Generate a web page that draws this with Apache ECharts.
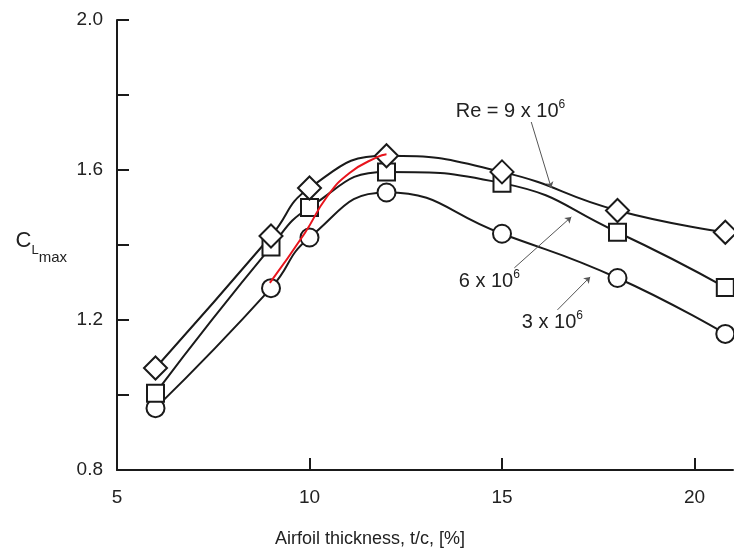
<!DOCTYPE html>
<html>
<head>
<meta charset="utf-8">
<script src="https://cdn.jsdelivr.net/npm/echarts@6/dist/echarts.min.js"></script>
<style>
  html, body { margin: 0; padding: 0; background: #fff; }
  #main { width: 734px; height: 549px; }
</style>
</head>
<body>
<div id="main"></div>
<script>
// 厚度 (t/c, %)
var thickness = [6, 9, 10, 12, 15, 18, 20.8]
// CLmax per Reynolds number
var re3 = [0.965, 1.285, 1.42, 1.54, 1.43, 1.312, 1.163]
var re6 = [1.005, 1.395, 1.50, 1.595, 1.565, 1.434, 1.287]
var re9 = [1.072, 1.424, 1.552, 1.638, 1.595, 1.492, 1.434]
// red hand-drawn curve
var redX = [8.97, 9.88, 10.45, 11.04, 11.77, 12.0]
var redY = [1.299, 1.432, 1.528, 1.592, 1.635, 1.642]

var xLabels = [5, 10, 15, 20]
var xTicks = [10, 15, 20]
var yLabels = [0.8, 1.2, 1.6, 2.0]
var yTicks = [1.0, 1.2, 1.4, 1.6, 1.8, 2.0]

// annotation leaders: [from, to]
var arrows = [
  [[15.76, 1.728], [16.28, 1.552]],
  [[15.32, 1.339], [16.80, 1.475]],
  [[16.44, 1.227], [17.29, 1.315]]
]
var notes = [
  { pos: [15.22, 1.757], text: '{t|Re = 9 x 10}{s|6}' },
  { pos: [14.67, 1.303], text: '{t|6 x 10}{s|6}' },
  { pos: [16.31, 1.193], text: '{t|3 x 10}{s|6}' }
]

var pairs = function(xs, ys) {
  var out = []
  for (var i = 0; i < xs.length; i++) {
    out.push([xs[i], ys[i]])
  }
  return out
}

var seriesStyle = function(name, ys, symbol, size) {
  return {
    name: name,
    type: 'line',
    smooth: 0.5,
    data: pairs(thickness, ys),
    symbol: symbol,
    symbolSize: size,
    lineStyle: { color: '#1a1a1a', width: 2 },
    itemStyle: { color: '#fff', borderColor: '#1a1a1a', borderWidth: 2 },
    emphasis: { disabled: true }
  }
}

var txt = { fontFamily: 'Liberation Sans, Arial, sans-serif', color: '#222' }

var mychart = echarts.init(document.getElementById('main'))
mychart.setOption({
  animation: false,
  grid: { left: 117, right: 1, top: 20, bottom: 79, outerBoundsMode: 'none', containLabel: false },
  xAxis: {
    type: 'value',
    min: 5,
    max: 21,
    interval: 1,
    name: 'Airfoil thickness, t/c, [%]',
    nameLocation: 'middle',
    nameGap: 60,
    nameTextStyle: Object.assign({ fontSize: 18, padding: [0, 110, 0, 0] }, txt),
    axisLine: { lineStyle: { color: '#1a1a1a', width: 2 } },
    axisTick: { inside: true, length: 12, customValues: xTicks, lineStyle: { color: '#1a1a1a', width: 2 } },
    axisLabel: Object.assign({ fontSize: 19, margin: 18, customValues: xLabels }, txt),
    splitLine: { show: false }
  },
  yAxis: {
    type: 'value',
    min: 0.8,
    max: 2.0,
    interval: 0.2,
    name: '{c|C}{l|L}{m|max}',
    nameLocation: 'middle',
    nameRotate: 0,
    nameGap: 50,
    nameTextStyle: {
      rich: {
        c: Object.assign({ fontSize: 22, padding: [0, 0, 8, 0] }, txt),
        l: Object.assign({ fontSize: 13, padding: [10, 0, 0, 0] }, txt),
        m: Object.assign({ fontSize: 15, padding: [26, 0, 0, 0] }, txt)
      }
    },
    axisLine: { show: true, lineStyle: { color: '#1a1a1a', width: 2 } },
    axisTick: { inside: true, length: 12, customValues: yTicks, lineStyle: { color: '#1a1a1a', width: 2 } },
    axisLabel: Object.assign({
      fontSize: 19,
      margin: 14,
      customValues: yLabels,
      formatter: function(v) { return v.toFixed(1) }
    }, txt),
    splitLine: { show: false }
  },
  series: [
    seriesStyle('3 x 10^6', re3, 'circle', 18),
    seriesStyle('6 x 10^6', re6, 'rect', 17),
    seriesStyle('9 x 10^6', re9, 'diamond', 23),
    {
      name: 'red',
      type: 'line',
      smooth: true,
      data: pairs(redX, redY),
      symbol: 'none',
      lineStyle: { color: '#e8141c', width: 2 },
      z: 5
    },
    {
      name: 'notes',
      type: 'line',
      data: [],
      markLine: {
        silent: true,
        symbol: ['none', 'arrow'],
        symbolSize: 6,
        label: { show: false },
        lineStyle: { color: '#555', width: 1, type: 'solid' },
        data: arrows.map(function(a) {
          return [{ coord: a[0] }, { coord: a[1] }]
        })
      },
      markPoint: {
        silent: true,
        symbol: 'circle',
        symbolSize: 1,
        itemStyle: { color: 'rgba(0,0,0,0)' },
        label: {
          show: true,
          position: 'inside',
          rich: {
            t: Object.assign({ fontSize: 20 }, txt),
            s: Object.assign({ fontSize: 12, padding: [0, 0, 13, 0] }, txt)
          }
        },
        data: notes.map(function(n) {
          return { coord: n.pos, label: { formatter: n.text } }
        })
      }
    }
  ]
})
</script>
</body>
</html>
